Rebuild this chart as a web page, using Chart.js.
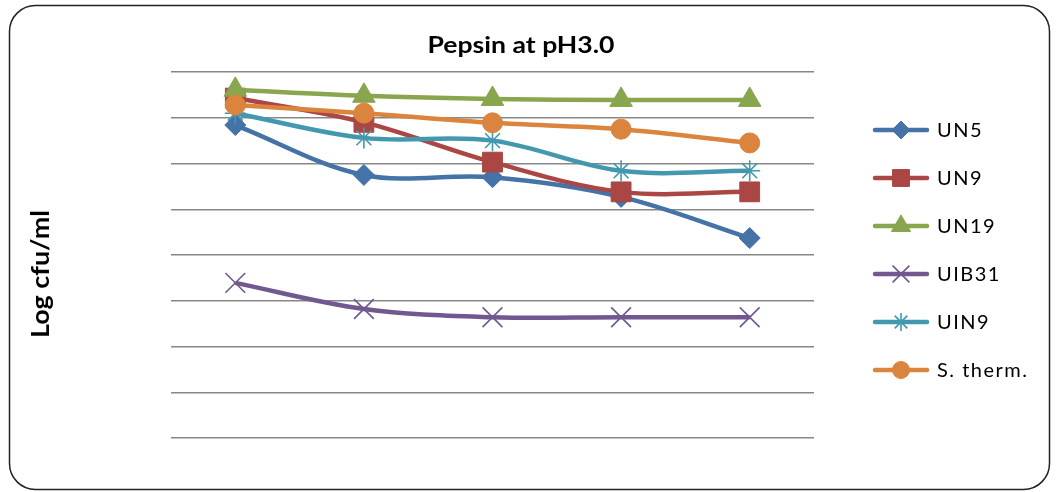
<!DOCTYPE html>
<html><head><meta charset="utf-8">
<script src="https://cdn.jsdelivr.net/npm/chart.js@4/dist/chart.umd.min.js"></script>
<style>html,body{margin:0;padding:0;background:#fff}#wrap{width:1056px;height:492px}</style>
</head><body><div id="wrap"><canvas id="c" width="1056" height="492"></canvas></div>
<script>
// ---- data ----
const categories = ['1', '2', '3', '4', '5'];
const seriesNames = ['UN5', 'UN9', 'UN19', 'UIB31', 'UIN9', 'S. therm.'];
const un5 = [6.84, 5.75, 5.70, 5.27, 4.37];
const un9 = [7.43, 6.90, 6.03, 5.38, 5.38];
const un19 = [7.61, 7.48, 7.41, 7.39, 7.39];
const uib31 = [3.39, 2.82, 2.64, 2.64, 2.64];
const uin9 = [7.10, 6.56, 6.50, 5.84, 5.84];
const stherm = [7.28, 7.10, 6.89, 6.75, 6.45];
const yTicks = [0, 1, 2, 3, 4, 5, 6, 7, 8];
const chartTitle = 'Pepsin at pH3.0';
const yTitle = 'Log cfu/ml';

// ---- styles ----
const seriesValues = [un5, un9, un19, uib31, uin9, stherm];
const colors = ['#4572A7', '#AA4643', '#89A54E', '#71588F', '#4198AF', '#DB843D'];
const pStyles = ['rectRot', 'rect', 'triangle', 'crossRot', 'star', 'circle'];
const pRadius = [10.5, 14, 13, 14, 10.5, 10];
const pBorder = [1, 1, 1, 1.6, 1.6, 1];

const datasets = seriesValues.map((vals, i) => ({
  label: seriesNames[i],
  data: vals,
  borderColor: colors[i],
  backgroundColor: colors[i],
  borderWidth: 4.5,
  tension: 0.35,
  pointStyle: pStyles[i],
  pointRadius: pRadius[i],
  pointBorderWidth: pBorder[i],
  pointBackgroundColor: colors[i],
  pointBorderColor: colors[i],
  order: seriesValues.length - i,
  clip: false
}));

function fitText(ctx, text, x, y, targetW) {
  const w = ctx.measureText(text).width;
  ctx.save();
  ctx.translate(x, y);
  ctx.scale(targetW / w, 1);
  ctx.fillText(text, 0, 0);
  ctx.restore();
}

const decor = {
  id: 'decor',
  beforeDraw(chart) {
    const ctx = chart.ctx;
    ctx.save();
    ctx.fillStyle = '#fff';
    ctx.fillRect(0, 0, chart.width, chart.height);
    ctx.beginPath();
    ctx.roundRect(9.5, 5.5, 1040, 484, 26);
    ctx.strokeStyle = '#222';
    ctx.lineWidth = 1.5;
    ctx.stroke();
    ctx.restore();
  },
  afterDraw(chart) {
    const ctx = chart.ctx;
    ctx.save();
    ctx.fillStyle = '#000';
    ctx.font = 'bold 23px Lato';
    ctx.textAlign = 'center';
    ctx.textBaseline = 'alphabetic';
    fitText(ctx, chartTitle, 521, 53, 187);
    ctx.save();
    ctx.translate(49, 274);
    ctx.rotate(-Math.PI / 2);
    ctx.font = 'bold 24px Lato';
    fitText(ctx, yTitle, 0, 0, 128);
    ctx.restore();
    // legend
    seriesNames.forEach((name, i) => {
      const y = 130 + i * 48;
      ctx.beginPath();
      ctx.moveTo(875, y);
      ctx.lineTo(927, y);
      ctx.strokeStyle = colors[i];
      ctx.lineWidth = 4.5;
      ctx.lineCap = 'round';
      ctx.stroke();
      ctx.lineCap = 'butt';
      ctx.fillStyle = colors[i];
      ctx.strokeStyle = colors[i];
      ctx.lineWidth = pBorder[i];
      Chart.helpers.drawPoint(ctx, {pointStyle: pStyles[i], radius: pRadius[i] * 0.85, borderWidth: pBorder[i], rotation: 0}, 901, y);
      ctx.fillStyle = '#000';
      ctx.font = '20px Lato';
      ctx.letterSpacing = '1.5px';
      ctx.textAlign = 'left';
      ctx.textBaseline = 'middle';
      ctx.fillText(name, 937, y + 1);
      ctx.letterSpacing = '0px';
    });
    ctx.restore();
  }
};

new Chart(document.getElementById('c'), {
  type: 'line',
  data: { labels: categories, datasets },
  options: {
    responsive: false,
    animation: false,
    layout: { padding: { left: 171, right: 242, top: 72, bottom: 54 } },
    plugins: { legend: { display: false }, tooltip: { enabled: false }, title: { display: false } },
    scales: {
      x: { display: false, offset: true },
      y: {
        min: yTicks[0], max: yTicks[yTicks.length - 1],
        afterBuildTicks: (s) => { s.ticks = yTicks.map(v => ({ value: v })); },
        ticks: { display: false },
        grid: { drawTicks: false, color: '#888', lineWidth: 1.5 },
        border: { display: false }
      }
    }
  },
  plugins: [decor]
});
</script>
</body></html>
